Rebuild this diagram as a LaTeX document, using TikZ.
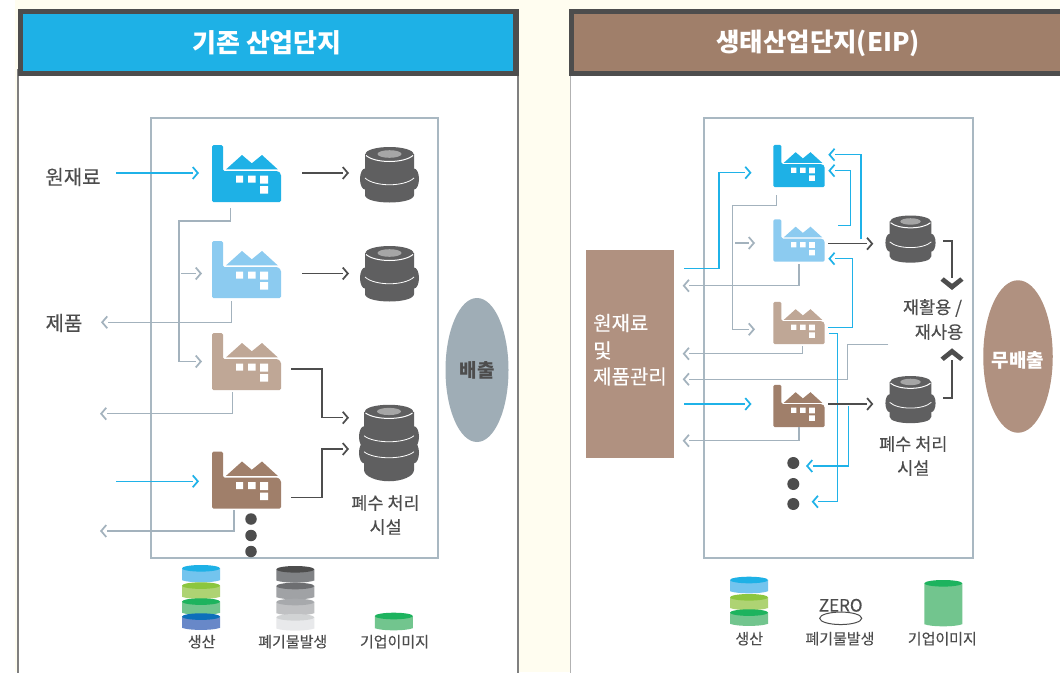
\documentclass[tikz,border=0pt]{standalone}
\usepackage{fontspec}
\setmainfont{Noto Sans CJK KR}
\newfontfamily\medf[FakeBold=0.25]{Noto Sans CJK KR}
\usetikzlibrary{arrows.meta,shapes.geometric}
\pgfdeclarearrow{
  name=Chv,
  setup code={
    \pgfarrowssettipend{0pt}
    \pgfarrowssetlineend{-6.5pt}
    \pgfarrowssetbackend{-6.9pt}
  },
  drawing code={
    \pgfsetdash{}{0pt}
    \pgfpathmoveto{\pgfqpoint{0pt}{0pt}}
    \pgfpathlineto{\pgfqpoint{-5.6pt}{6.5pt}}
    \pgfpathlineto{\pgfqpoint{-6.9pt}{5.4pt}}
    \pgfpathlineto{\pgfqpoint{-2.3pt}{0pt}}
    \pgfpathlineto{\pgfqpoint{-6.9pt}{-5.4pt}}
    \pgfpathlineto{\pgfqpoint{-5.6pt}{-6.5pt}}
    \pgfpathclose
    \pgfusepathqfill
  }
}
\pgfdeclarearrow{
  name=ChvBig,
  setup code={
    \pgfarrowssettipend{0pt}
    \pgfarrowssetlineend{-12pt}
    \pgfarrowssetbackend{-12.3pt}
  },
  drawing code={
    \pgfsetdash{}{0pt}
    \pgfpathmoveto{\pgfqpoint{0pt}{0pt}}
    \pgfpathlineto{\pgfqpoint{-9.3pt}{11.5pt}}
    \pgfpathlineto{\pgfqpoint{-12.6pt}{8.2pt}}
    \pgfpathlineto{\pgfqpoint{-6.2pt}{0pt}}
    \pgfpathlineto{\pgfqpoint{-12.6pt}{-8.2pt}}
    \pgfpathlineto{\pgfqpoint{-9.3pt}{-11.5pt}}
    \pgfpathclose
    \pgfusepathqfill
  }
}
\definecolor{cream}{HTML}{FFFDF0}
\definecolor{txt}{HTML}{4D4D4D}
\definecolor{dark}{HTML}{4D4D4D}
\definecolor{frameblue}{HTML}{A9B8C2}
\definecolor{linegray}{HTML}{A3B2BD}
\definecolor{lineblue}{HTML}{1FB2E8}
\definecolor{fblue}{HTML}{1EB1E6}
\definecolor{flight}{HTML}{8CCBF0}
\definecolor{ftan}{HTML}{BFA796}
\definecolor{fbrown}{HTML}{A07F6A}
\definecolor{boxbrown}{HTML}{B09180}
\definecolor{emit}{HTML}{9FADB6}
\definecolor{barrelc}{HTML}{5F5F60}
\definecolor{skyb}{HTML}{73C4EE}
\definecolor{limet}{HTML}{8CC63F}
\definecolor{limeb}{HTML}{AED373}
\definecolor{greent}{HTML}{1DB35E}
\definecolor{greenb}{HTML}{72C58E}
\definecolor{bluet}{HTML}{0D6FBB}
\definecolor{blueb}{HTML}{6888C8}
\definecolor{g1t}{HTML}{4D4D4D}
\definecolor{g1b}{HTML}{808285}
\definecolor{g2t}{HTML}{6D6E71}
\definecolor{g2b}{HTML}{A0A2A5}
\definecolor{g3t}{HTML}{A7A9AC}
\definecolor{g3b}{HTML}{C0C1C3}
\definecolor{g4t}{HTML}{D1D3D4}
\definecolor{g4b}{HTML}{E8E9EB}
\tikzset{
  fs/.style={font=\medf\fontsize{#1}{#1}\selectfont},
  lbl/.style={text=txt,inner sep=0pt,fs=#1},
  lbl/.default=17.5,
  fbig/.style={minimum width=69pt,minimum height=57pt,inner sep=0pt,outer sep=0pt},
  fsmall/.style={minimum width=51.5pt,minimum height=42.5pt,inner sep=0pt,outer sep=0pt},
  bbig/.style={minimum width=59pt,minimum height=56pt,inner sep=0pt,outer sep=0pt},
  bsmall/.style={minimum width=51pt,minimum height=47pt,inner sep=0pt,outer sep=0pt},
  tip/.style={-{Chv}},
  lnblue/.style={draw=lineblue,line width=1.2pt},
  lnbluer/.style={draw=lineblue,line width=1.5pt},
  lngray/.style={draw=linegray,line width=1.3pt},
  lndark/.style={draw=dark,line width=1.3pt},
  bigtip/.style={-{ChvBig}},
  dotn/.style={circle,fill=dark,minimum size=#1,inner sep=0pt,outer sep=0pt},
  pics/factory/.style={code={
    \fill[#1,rounded corners=1.5pt] (0,0)--(11,0)--(11,26)--(66,26)--(69,29)--(69,57)--(0,57)--cycle;
    \fill[#1] (14,24.4)--(30,10)--(39.8,18.3)--(50,10)--(65.8,24.4)--cycle;
    \fill[white] (24,30.7) rectangle (31,37.7) (36,30.7) rectangle (43.5,37.7)
      (48,30.7) rectangle (56,38.5) (48,41) rectangle (56,48.5);
  }},
  pics/barrel/.style={code={
    \fill[barrelc] (-24.5,7)--(-24.5,48) .. controls (-24.5,53) and (-12,55.5) .. (0,55.5)
      .. controls (12,55.5) and (24.5,53) .. (24.5,48)--(24.5,7)--cycle;
    \fill[barrelc] (-24.5,32) ellipse [x radius=5,y radius=10.5];
    \fill[barrelc] (24.5,32) ellipse [x radius=5,y radius=10.5];
    \fill[barrelc] (0,7) ellipse [x radius=24,y radius=7];
    \draw[white,line width=1pt] (-23.5,8.5) .. controls (-14,16.5) and (14,16.5) .. (23.5,8.5);
    \fill[black!35] (0,7) ellipse [x radius=12,y radius=3.8];
    \draw[white,line width=.8pt] (-24.5,31) .. controls (-15,40) and (15,40) .. (24.5,31);
  }},
  pics/barreltwo/.style={code={
    \fill[barrelc] (-25,7)--(-25,65) .. controls (-25,72) and (-12,76.5) .. (0,76.5)
      .. controls (12,76.5) and (25,72) .. (25,65)--(25,7)--cycle;
    \foreach \yy in {32,48}{
      \fill[barrelc] (-25,\yy) ellipse [x radius=5,y radius=10.5];
      \fill[barrelc] (25,\yy) ellipse [x radius=5,y radius=10.5];
    }
    \fill[barrelc] (0,6.7) ellipse [x radius=24,y radius=6.7];
    \draw[white,line width=1pt] (-23.5,8.2) .. controls (-14,15.5) and (14,15.5) .. (23.5,8.2);
    \fill[black!35] (0,6.7) ellipse [x radius=12,y radius=3.6];
    \draw[white,line width=.8pt] (-25,31) .. controls (-15,39) and (15,39) .. (25,31);
    \draw[white,line width=.8pt] (-25,47) .. controls (-15,55) and (15,55) .. (25,47);
  }},
  pics/disk/.style n args={3}{code={
    \fill[#2] (-19,3.3)--(-19,#3-2.5) .. controls (-12,#3+.3) and (12,#3+.3) .. (19,#3-2.5)--(19,3.3)--cycle;
    \fill[#1] (0,3.3) ellipse [x radius=19,y radius=3.3];
  }},
}
\begin{document}
\begin{tikzpicture}[x=1pt,y=-1pt]
\useasboundingbox (0,0) rectangle (1060,672);
\fill[white] (0,0) rectangle (1060,672);
\fill[cream] (15,0) rectangle (1060,672);
% panels
\filldraw[fill=white,draw=black!50,line width=1.2pt] (18,70) rectangle (518,680);
\filldraw[fill=white,draw=black!30,line width=1pt] (570.5,70) rectangle (1070,680);
\fill[dark] (17.5,8.5) rectangle (518.5,76);
\fill[fblue] (23,14) rectangle (513,71);
\fill[dark] (569,8.5) rectangle (1060,76);
\fill[fbrown] (574,14) rectangle (1060,71);
\node[text=white,inner sep=0pt,font=\fontsize{26}{26}\selectfont\bfseries] (hl) at (267,43) {기존 산업단지};
\node[text=white,inner sep=0pt,font=\fontsize{25.5}{25.5}\selectfont\bfseries] (hr) at (818,43) {생태산업단지(EIP)};
% frames
\node[draw=frameblue,line width=2pt,minimum width=286.5pt,minimum height=440pt,inner sep=0pt] (fl) at (294.5,338) {};
\node[draw=frameblue,line width=2pt,minimum width=269pt,minimum height=440pt,inner sep=0pt] (fr) at (838.8,338) {};
% ellipses
\node[ellipse,fill=emit,minimum width=63pt,minimum height=144pt,inner sep=0pt] (em) at (477,370) {};
\node[text=txt,inner sep=0pt,font=\fontsize{19}{19}\selectfont\bfseries] (emt) at (477,370) {배출};
\node[ellipse,fill=boxbrown,minimum width=69.5pt,minimum height=152.5pt,inner sep=0pt] (ze) at (1018,356.5) {};
\node[text=white,inner sep=0pt,font=\fontsize{19}{19}\selectfont\bfseries] (zet) at (1018,360) {무배출};
% left factories
\node[fbig] (f1) at (246.5,173.5) {}; \pic at (f1.north west) {factory=fblue};
\node[fbig] (f2) at (246.5,269.5) {}; \pic at (f2.north west) {factory=flight};
\node[fbig] (f3) at (246.5,361.5) {}; \pic at (f3.north west) {factory=ftan};
\node[fbig] (f4) at (246.5,480) {}; \pic at (f4.north west) {factory=fbrown};
% left barrels
\node[bbig] (b1) at (389.5,175) {}; \pic at (b1.north) {barrel};
\node[bbig] (b2) at (389.5,274) {}; \pic at (b2.north) {barrel};
\node[minimum width=60pt,minimum height=76.5pt,inner sep=0pt,outer sep=0pt] (b3) at (389,443) {}; \pic at (b3.north) {barreltwo};
% left labels
\node[lbl=20] (lraw) at (73,177) {원재료};
\node[lbl=20] (lprod) at (64,323) {제품};
\node[lbl] (lw1) at (385.5,503) {폐수 처리};
\node[lbl] (lw2) at (385.7,527) {시설};
\coordinate (in1) at (116,173);
\coordinate (in2) at (116,481.3);
\coordinate (out2) at (100,413.7);
\coordinate (out3) at (100,531);
% left connectors
\draw[lnblue,tip] (in1) -- ([shift={(-47.5,-0.5)}]f1.center);
\draw[lndark,tip] ([shift={(55.5,-0.5)}]f1.center) -- ([shift={(-40.5,-2)}]b1.center);
\draw[lndark,tip] ([shift={(55.5,4)}]f2.center) -- ([shift={(-40.5,-0.5)}]b2.center);
\draw[lngray,tip] ([shift={(-16,34.5)}]f1.center) -- ++(0,13) -- ++(-51.5,0) |- ([shift={(-44.5,0)}]f3.center);
\draw[lngray,tip] ([shift={(-65.5,4)}]f2.center) -- ([shift={(-44.5,4)}]f2.center);
\draw[lngray,tip] ([shift={(-15,31.5)}]f2.center) |- ([shift={(37,-0.7)}]lprod.center);
\draw[lngray,tip] ([shift={(-14,30.5)}]f3.center) |- (out2);
\draw[lndark,tip] ([shift={(44.5,7.5)}]f3.center) -- ++(31,0) |- ([shift={(-40,-25.3)}]b3.center);
\draw[lndark,tip] ([shift={(44.5,17.7)}]f4.center) -- ++(31,0) |- ([shift={(-40,6)}]b3.center);
\draw[lnblue,tip] (in2) -- ([shift={(-47.5,1.3)}]f4.center);
\draw[lngray,tip] ([shift={(-12.5,30)}]f4.center) |- (out3);
% left dots
\node[dotn=11.5pt] (ld1) at (251,519) {};
\node[dotn=11.5pt] (ld2) at (251,535.5) {};
\node[dotn=11.5pt] (ld3) at (251,551.5) {};
% left legend
\pic at (201,565) {disk={fblue}{skyb}{17.7}};
\pic at (201,582.3) {disk={limet}{limeb}{17}};
\pic at (201,598.3) {disk={greent}{greenb}{17}};
\pic at (201,613.3) {disk={bluet}{blueb}{17}};
\pic at (295.3,566) {disk={g1t}{g1b}{17}};
\pic at (295.3,582.7) {disk={g2t}{g2b}{17}};
\pic at (295.3,598.7) {disk={g3t}{g3b}{17}};
\pic at (295.3,614) {disk={g4t}{g4b}{17}};
\pic at (393.8,612.7) {disk={greent}{greenb}{18}};
\node[lbl=15] (lg1) at (201.7,641.7) {생산};
\node[lbl=15] (lg2) at (292.8,641.7) {폐기물발생};
\node[lbl=15] (lg3) at (394.5,641.7) {기업이미지};
% right box
\node[fill=boxbrown,minimum width=88pt,minimum height=208pt,inner sep=0pt,outer sep=0pt] (pb) at (629.5,354) {};
\node[anchor=west,text=white,inner sep=0pt,fs=20] (pb1) at (593,323) {원재료};
\node[anchor=west,text=white,inner sep=0pt,fs=20] (pb2) at (593,350.5) {및};
\node[anchor=west,text=white,inner sep=0pt,fs=20] (pb3) at (593,376.5) {제품관리};
% right factories
\node[fsmall] (s1) at (799,166) {}; \pic[scale=.745] at (s1.north west) {factory=fblue};
\node[fsmall] (s2) at (799,240.5) {}; \pic[scale=.745] at (s2.north west) {factory=flight};
\node[fsmall] (s3) at (799,323) {}; \pic[scale=.745] at (s3.north west) {factory=ftan};
\node[fsmall] (s4) at (799,406) {}; \pic[scale=.745] at (s4.north west) {factory=fbrown};
% right barrels
\node[bsmall] (sb1) at (910.5,239) {}; \pic[scale=.85] at (sb1.north) {barrel};
\node[bsmall] (sb2) at (910.5,399.5) {}; \pic[scale=.85] at (sb2.north) {barrel};
% right labels
\node[lbl] (rec1) at (932.5,308) {재활용 /};
\node[lbl] (rec2) at (939,332) {재사용};
\node[lbl] (rw1) at (913.3,444) {폐수 처리};
\node[lbl] (rw2) at (913.3,468) {시설};
% right dots
\node[dotn=12pt] (d1) at (793.3,463) {};
\node[dotn=12pt] (d2) at (793.3,484) {};
\node[dotn=12pt] (d3) at (793.3,504) {};
% right connectors
\draw[lnbluer,tip] ([shift={(54.5,-85.3)}]pb.center) -- ++(35,0) |- ([shift={(-47.5,6.7)}]s1.center);
\draw[lnbluer,tip] ([shift={(54.5,50)}]pb.center) -- ([shift={(-47.5,-2)}]s4.center);
\draw[lngray,tip] ([shift={(-22.7,29.3)}]s1.center) -- ++(0,10) -- ++(-44,0) |- ([shift={(-44,6.3)}]s3.center);
\draw[lngray,tip] ([shift={(-64,2.5)}]s2.center) -- ([shift={(-44,2.5)}]s2.center);
\draw[lngray,tip] ([shift={(0,23.5)}]s2.center) |- ([shift={(53.2,-68.3)}]pb.center);
\draw[lngray,tip] ([shift={(3.3,23)}]s3.center) |- ([shift={(53.2,-0.3)}]pb.center);
\draw[lngray,tip] ([shift={(-50.7,12.3)}]rec2.center) -- ++(-40.6,0) |- ([shift={(53.2,25.3)}]pb.center);
\draw[lngray,tip] ([shift={(0,21)}]s4.center) |- ([shift={(53.2,86.7)}]pb.center);
\draw[lnbluer,tip] ([shift={(39.3,-15.2)}]s2.center) -- ++(12.4,0) |- ([shift={(29.3,4.7)}]s1.center);
\draw[lnbluer,tip] ([shift={(62,-1.2)}]s2.center) |- ([shift={(29.3,-11.3)}]s1.center);
\draw[lndark,tip] ([shift={(29.3,3.2)}]s2.center) -- ([shift={(-37.2,4.7)}]sb1.center);
\draw[lnbluer,tip] ([shift={(29.3,4.3)}]s3.center) -- ++(24.4,0) |- ([shift={(29.3,18.2)}]s2.center);
\draw[lnbluer,tip] ([shift={(30.3,10.7)}]s3.center) -- ++(8,0) |- ([shift={(18.4,-2.3)}]d3.center);
\draw[lnbluer,tip] ([shift={(49.3,0)}]s4.center) |- ([shift={(12.7,3)}]d1.center);
\draw[lndark,tip] ([shift={(29.3,-2)}]s4.center) -- ([shift={(-37.2,4.5)}]sb2.center);
\draw[lndark,bigtip] ([shift={(32.8,2)}]sb1.center) -- ++(8.7,0) -- ([shift={(19.5,-18)}]rec1.center);
\draw[lndark,bigtip] ([shift={(32.8,-1.5)}]sb2.center) -- ++(8.7,0) -- ([shift={(13,16.3)}]rec2.center);
% right legend
\pic at (749,576.7) {disk={fblue}{skyb}{17}};
\pic at (749,594) {disk={limet}{limeb}{16.5}};
\pic at (749,609.3) {disk={greent}{greenb}{17}};
\node[text=txt,inner sep=0pt,fs=17] (zero) at (840.7,605.3) {ZERO};
\node[ellipse,draw=dark,line width=1pt,minimum width=42pt,minimum height=12.5pt,inner sep=0pt] (zel) at (840.7,618.3) {};
\pic at (943.3,580) {disk={greent}{greenb}{46.7}};
\node[lbl=15] (rg1) at (749.3,638.7) {생산};
\node[lbl=15] (rg2) at (840,638.7) {폐기물발생};
\node[lbl=15] (rg3) at (942.3,638.7) {기업이미지};
\end{tikzpicture}
\end{document}
